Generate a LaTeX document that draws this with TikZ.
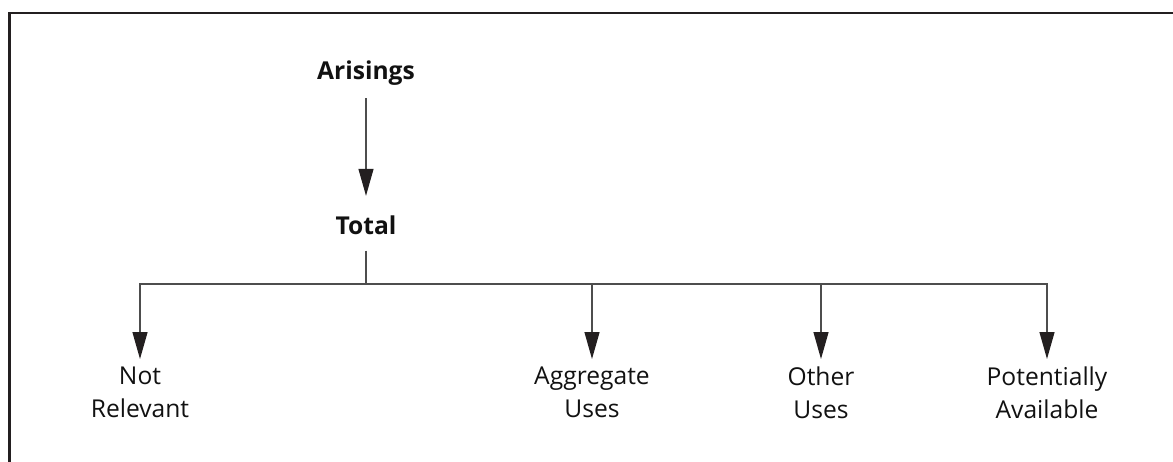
\documentclass[tikz,border=0pt]{standalone}
\usepackage{tikz}
\usetikzlibrary{arrows.meta,positioning}
\usepackage{xcolor}
\usepackage{fontspec}
\setmainfont{Open Sans}
\definecolor{frame}{HTML}{231F20}
\definecolor{conn}{HTML}{4D4D4D}
\definecolor{tip}{HTML}{231F20}
\definecolor{txt}{HTML}{111111}

\begin{document}
\begin{tikzpicture}[
  hdr/.style={inner sep=0pt, anchor=base, text=txt, font=\fontsize{17.5}{23.1}\selectfont\bfseries},
  lbl/.style={inner sep=0pt, anchor=north, align=center, text=txt, font=\fontsize{17.5}{23.1}\selectfont},
  ln/.style={line width=0.9pt, color=conn},
  arr/.style={ln, -{Triangle[length=0.675cm, width=0.375cm, color=tip]}},
]

\useasboundingbox (0,0) rectangle (29.325,-11.55);
\draw[line width=1.7pt, color=frame] (0.2375,-11.55) -- (0.2375,-0.3175) -- (29.325,-0.3175);

\node[hdr] (arisings) at (9.15,-2.0) {Arisings};
\node[hdr] (total) at (9.15,-5.85) {Total};
\coordinate (split) at (9.15,-7.1);

\node[lbl] (notrel) at (3.5,-9.175) {Not\\Relevant};
\node[lbl] (aggr) at (14.8,-9.175) {Aggregate\\Uses};
\node[lbl] (other) at (20.525,-9.175) {Other\\Uses};
\node[lbl] (avail) at (26.175,-9.175) {Potentially\\Available};

\draw[arr, shorten <=0.3cm, shorten >=0.48cm] (arisings.south) -- (total.north);
\draw[ln, shorten <=0.4cm] (total.south) -- (split);
\draw[arr, shorten >=0.2cm] (split) -| (notrel.north);
\draw[arr, shorten >=0.2cm] (split) -| (aggr.north);
\draw[arr, shorten >=0.2cm] (split) -| (other.north);
\draw[arr, shorten >=0.2cm] (split) -| (avail.north);

\end{tikzpicture}
\end{document}
